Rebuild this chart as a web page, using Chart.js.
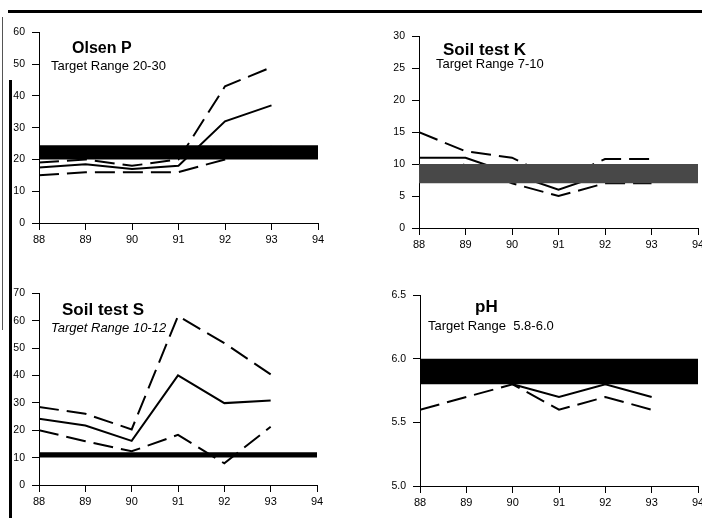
<!DOCTYPE html>
<html>
<head>
<meta charset="utf-8">
<title>Soil tests 1988-1994</title>
<script src="https://cdn.jsdelivr.net/npm/chart.js@4.4.1/dist/chart.umd.min.js"></script>
<style>
  body { margin: 0; width: 702px; height: 518px; overflow: hidden; background: #fff; position: relative; }
  canvas { position: absolute; }
  .rule { position: absolute; background: #000; }
</style>
</head>
<body>
<div class="rule" style="left:8px;top:10px;width:694px;height:3px"></div>
<div class="rule" style="left:2px;top:17px;width:1px;height:313px;background:#555"></div>
<div class="rule" style="left:9px;top:80px;width:3px;height:438px"></div>

<canvas id="olsen" width="325" height="226" style="left:5px;top:19px"></canvas>
<canvas id="potassium" width="325" height="227" style="left:385px;top:23px"></canvas>
<canvas id="sulphur" width="324" height="227" style="left:5px;top:280px"></canvas>
<canvas id="ph" width="324" height="226" style="left:386px;top:282px"></canvas>

<script>
const years = [88, 89, 90, 91, 92, 93];
const span = [88, 94];
const xTicks = [88, 89, 90, 91, 92, 93, 94];

// Olsen P
const olsenHigh = [19, 20, 18, 20, 43, 49];
const olsenMid = [17.5, 18.5, 17, 18, 32, 37];
const olsenLow = [15, 16, 16, 16, 20, 24];
const olsenBand = [20, 24.5];
const olsenTicks = [0, 10, 20, 30, 40, 50, 60];

// Soil test K
const kHigh = [15, 12, 11, 7.5, 10.8, 10.8];
const kMid = [11, 11, 8.5, 6, 8.5, 8.5];
const kLow = [7.5, 10, 7, 5, 7, 7];
const kBand = [7, 10];
const kTicks = [0, 5, 10, 15, 20, 25, 30];

// Soil test S
const sHigh = [28.5, 26, 20.3, 61.7, 51.8, 40.4];
const sMid = [24.2, 21.7, 16.1, 40, 29.9, 30.9];
const sLow = [20, 16, 12.3, 18.3, 7.9, 21.3];
const sBand = [10, 12];
const sTicks = [0, 10, 20, 30, 40, 50, 60, 70];

// pH
const phMid = [5.9, 5.9, 5.8, 5.7, 5.8, 5.7];
const phLow = [5.6, 5.7, 5.8, 5.6, 5.7, 5.6];
const phBand = [5.8, 6.0];
const phTicks = [5.0, 5.5, 6.0, 6.5];

const FAMILY = '"Liberation Sans", Arial, Helvetica, sans-serif';

// panel heading + target range text, placed in page coordinates
const captions = {
  id: 'captions',
  afterDraw(chart, args, o) {
    const ctx = chart.ctx;
    const dx = chart.canvas.offsetLeft, dy = chart.canvas.offsetTop;
    ctx.save();
    ctx.fillStyle = '#000';
    ctx.textBaseline = 'alphabetic';
    ctx.textAlign = 'left';
    ctx.font = 'bold ' + o.titleSize + 'px ' + FAMILY;
    ctx.fillText(o.title, o.tx - dx, o.ty - dy);
    ctx.font = (o.italic ? 'italic ' : '') + o.subSize + 'px ' + FAMILY;
    ctx.fillText(o.sub, o.sx - dx, o.sy - dy);
    ctx.restore();
  }
};

function series(values, dashed) {
  return {
    data: years.map((x, i) => ({ x, y: values[i] })),
    borderColor: '#000',
    borderWidth: 2,
    borderDash: dashed ? [20, 8] : [],
    pointRadius: 0,
    tension: 0,
    fill: false
  };
}

function band(range, color) {
  return {
    data: span.map(x => ({ x, y: range[1] })),
    borderWidth: 0,
    borderColor: color,
    backgroundColor: color,
    pointRadius: 0,
    fill: { value: range[0] }
  };
}

function panel(id, lines, range, bandColor, ticks, decimals, caption) {
  // band first so it is drawn over the lines
  const datasets = [band(range, bandColor)].concat(lines);
  return new Chart(document.getElementById(id), {
    type: 'line',
    data: { datasets },
    plugins: [captions],
    options: {
      responsive: false,
      animation: false,
      layout: { padding: { top: 10, right: 12, left: 0, bottom: 0 } },
      plugins: {
        legend: { display: false },
        tooltip: { enabled: false },
        captions: caption
      },
      scales: {
        x: {
          type: 'linear',
          min: span[0],
          max: span[1],
          afterBuildTicks: s => { s.ticks = xTicks.map(v => ({ value: v })); },
          afterFit: s => { s.height = 22; },
          ticks: { color: '#000', font: { size: 11, family: FAMILY }, padding: 3, maxRotation: 0 },
          grid: { drawOnChartArea: false, tickLength: 7, color: '#000' },
          border: { color: '#000', width: 1 }
        },
        y: {
          min: ticks[0],
          max: ticks[ticks.length - 1],
          afterBuildTicks: s => { s.ticks = ticks.map(v => ({ value: v })); },
          afterFit: s => { s.width = 34; },
          ticks: {
            color: '#000',
            font: { size: 10.5, family: FAMILY },
            padding: 7,
            callback: v => v.toFixed(decimals)
          },
          grid: { drawOnChartArea: false, tickLength: 7, color: '#000' },
          border: { color: '#000', width: 1 }
        }
      }
    }
  });
}

panel('olsen',
  [series(olsenHigh, true), series(olsenMid, false), series(olsenLow, true)],
  olsenBand, '#000', olsenTicks, 0,
  { title: 'Olsen P', titleSize: 16, tx: 72, ty: 53,
    sub: 'Target Range 20-30', subSize: 13, sx: 51, sy: 70 });

panel('potassium',
  [series(kHigh, true), series(kMid, false), series(kLow, true)],
  kBand, '#484848', kTicks, 0,
  { title: 'Soil test K', titleSize: 17, tx: 443, ty: 55,
    sub: 'Target Range 7-10', subSize: 13, sx: 436, sy: 68 });

panel('sulphur',
  [series(sHigh, true), series(sMid, false), series(sLow, true)],
  sBand, '#000', sTicks, 0,
  { title: 'Soil test S', titleSize: 17, tx: 62, ty: 315,
    sub: 'Target Range 10-12', subSize: 13, italic: true, sx: 51, sy: 332 });

panel('ph',
  [series(phMid, false), series(phLow, true)],
  phBand, '#000', phTicks, 1,
  { title: 'pH', titleSize: 17, tx: 475, ty: 312,
    sub: 'Target Range  5.8-6.0', subSize: 13, sx: 428, sy: 330 });
</script>
</body>
</html>
